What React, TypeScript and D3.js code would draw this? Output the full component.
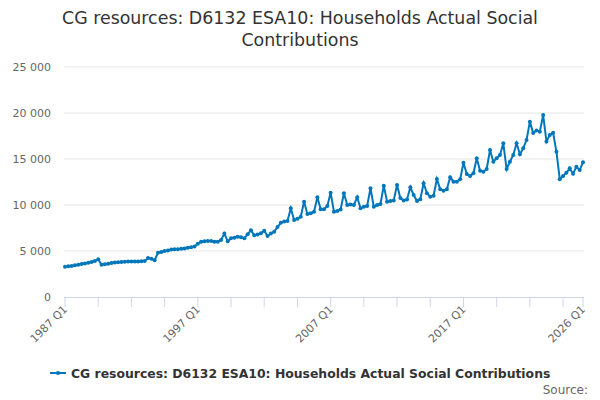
import { line, range, scaleLinear } from "d3";

const title = [
  "CG resources: D6132 ESA10: Households Actual Social",
  "Contributions",
];
const seriesName =
  "CG resources: D6132 ESA10: Households Actual Social Contributions";

// quarterly, 1987 Q1 .. 2026 Q1
const startYear = 1987;
const values = [
  3300, 3330, 3380, 3450, 3500, 3580, 3650, 3730, 3800, 3900,
  4100, 3500, 3550, 3620, 3700, 3750, 3770, 3800, 3830, 3850,
  3860, 3870, 3870, 3880, 3900, 4240, 4150, 4000, 4800, 4900,
  5000, 5050, 5150, 5180, 5200, 5250, 5280, 5350, 5400, 5500,
  5800, 6000, 6050, 6100, 6100, 6000, 6000, 6200, 6900, 6050,
  6380, 6450, 6560, 6500, 6380, 6810, 7250, 6700, 6800, 6920,
  7210, 6630, 6900, 7100, 7600, 8080, 8200, 8250, 9640, 8370,
  8500, 8730, 10360, 9020, 9100, 9270, 10840, 9530, 9530, 9900,
  11340, 9270, 9350, 9500, 11270, 10000, 10050, 10000, 10840, 9640,
  9820, 9900, 11820, 9820, 10000, 10100, 12100, 10360, 10430, 10500,
  12170, 10750, 10500, 10600, 11920, 11090, 10430, 10620, 12360, 11270,
  10900, 11010, 12830, 11710, 11560, 11710, 13010, 12530, 12530, 12790,
  14600, 13370, 13150, 13440, 15080, 13730, 13620, 13910, 15980, 14710,
  15080, 15440, 16710, 13910, 14710, 15440, 16710, 15510, 16160, 17070,
  19060, 17820, 18110, 17970, 19780, 16900, 17600, 17850, 15800, 12800,
  13150, 13500, 14000, 13400, 14150, 13800, 14640,
];
const quarters = values.map(
  (_, i) => `${startYear + Math.floor(i / 4)} Q${(i % 4) + 1}`,
);
const yTicks = [0, 5000, 10000, 15000, 20000, 25000];
const tickLabels = ["1987 Q1", "1997 Q1", "2007 Q1", "2017 Q1", "2026 Q1"];

const color = "#0077bb";
const fmt = (v: number) => String(v).replace(/\B(?=(\d{3})+(?!\d))/g, " ");

export default function App() {
  const width = 600;
  const height = 400;
  const plot = { left: 65, right: 583, top: 67, bottom: 297 };

  const x = scaleLinear()
    .domain([0, values.length - 1])
    .range([plot.left, plot.right]);
  const y = scaleLinear().domain([0, 25000]).range([plot.bottom, plot.top]);

  const path =
    line<number>()
      .x((_, i) => x(i))
      .y((d) => y(d))(values) ?? "";

  // minor ticks every 10 quarters, plus the last one
  const tickIdx = [...range(0, values.length, 10), values.length - 1];
  const labelIdx = tickLabels.map((l) => quarters.indexOf(l));

  return (
    <svg
      width={width}
      height={height}
      style={{ position: "absolute", left: 0, top: 0 }}
      fontFamily="DejaVu Sans, sans-serif"
    >
      <rect width={width} height={height} fill="#fff" />
      {title.map((t, i) => (
        <text
          key={t}
          x={width / 2}
          y={24 + i * 22}
          textAnchor="middle"
          fontSize={17.4}
          fill="#333"
        >
          {t}
        </text>
      ))}

      <g>
        {yTicks.map((t) => (
          <g key={t}>
            {t > 0 && (
              <line
                x1={plot.left - 1}
                x2={plot.right + 1}
                y1={y(t)}
                y2={y(t)}
                stroke="#e6e6e6"
              />
            )}
            <text
              x={51}
              y={y(t) + 4}
              textAnchor="end"
              fontSize={11}
              fill="#666"
            >
              {fmt(t)}
            </text>
          </g>
        ))}
      </g>

      <line
        x1={plot.left - 1}
        x2={plot.right + 1}
        y1={plot.bottom + 0.5}
        y2={plot.bottom + 0.5}
        stroke="#ccd6eb"
      />
      {tickIdx.map((i) => (
        <line
          key={i}
          x1={x(i)}
          x2={x(i)}
          y1={plot.bottom}
          y2={plot.bottom + 10}
          stroke="#ccd6eb"
        />
      ))}
      {labelIdx.map((i) => (
        <text
          key={i}
          transform={`translate(${x(i) + 3},${plot.bottom + 13}) rotate(-45)`}
          textAnchor="end"
          fontSize={11}
          fill="#666"
        >
          {quarters[i]}
        </text>
      ))}

      <path d={path} fill="none" stroke={color} strokeWidth={2} />
      {values.map((v, i) => (
        <circle key={i} cx={x(i)} cy={y(v)} r={2} fill={color} />
      ))}

      <g transform="translate(50,373)">
        <line x1={0} x2={16} y1={0} y2={0} stroke={color} strokeWidth={2} />
        <circle cx={8} cy={0} r={2} fill={color} />
        <text x={21} y={4.5} fontSize={12.4} fontWeight="bold" fill="#333">
          {seriesName}
        </text>
      </g>
      <text x={588} y={394} textAnchor="end" fontSize={12} fill="#666">
        Source:
      </text>
    </svg>
  );
}
